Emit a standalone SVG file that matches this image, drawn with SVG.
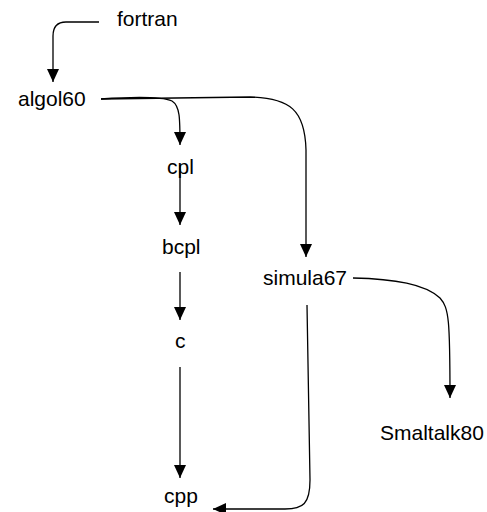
<svg xmlns="http://www.w3.org/2000/svg" width="487" height="512" viewBox="0 0 487 512">
<style>
.lbl{font-family:"Liberation Sans",Arial,sans-serif;font-size:21px;fill:#000}
.edge{fill:none;stroke:#000;stroke-width:1.3}
</style>
<defs>
<marker id="arr" viewBox="0 0 13 12" markerWidth="13" markerHeight="12" refX="13" refY="6" orient="auto" markerUnits="userSpaceOnUse">
<path d="M0,0 L13,6 L0,12 z" fill="#000"/>
</marker>
</defs>
<rect width="487" height="512" fill="#fff"/>
<g id="edges">
<path class="edge" marker-end="url(#arr)" d="M99,22 L66,22 C57,22 53,27 53,36 L53,82"/>
<path class="edge" marker-end="url(#arr)" d="M101,99 C130,97 160,96 172,101 C180,106 180,118 180,145"/>
<path class="edge" marker-end="url(#arr)" d="M101,99 L250,97 C290,98 305,110 306,150 L306,257"/>
<path class="edge" marker-end="url(#arr)" d="M180,165 L180,225"/>
<path class="edge" marker-end="url(#arr)" d="M180,272 L180,320"/>
<path class="edge" marker-end="url(#arr)" d="M180,367 L180,478"/>
<path class="edge" marker-end="url(#arr)" d="M307,305 C309,400 310,450 310,480 C310,504 303,509 285,509 L213,509"/>
<path class="edge" marker-end="url(#arr)" d="M353,278 C395,279 425,284 440,298 C449,308 450,320 450,398"/>
</g>
<g id="fortran"><text class="lbl" x="117" y="26">fortran</text></g>
<g id="algol60"><text class="lbl" x="18" y="106">algol60</text></g>
<g id="cpl"><text class="lbl" x="167" y="174">cpl</text></g>
<g id="bcpl"><text class="lbl" x="162" y="254">bcpl</text></g>
<g id="c"><text class="lbl" x="175" y="348">c</text></g>
<g id="cpp"><text class="lbl" x="164" y="503">cpp</text></g>
<g id="simula67"><text class="lbl" x="263" y="285">simula67</text></g>
<g id="Smaltalk80"><text class="lbl" x="380" y="440">Smaltalk80</text></g>
</svg>
